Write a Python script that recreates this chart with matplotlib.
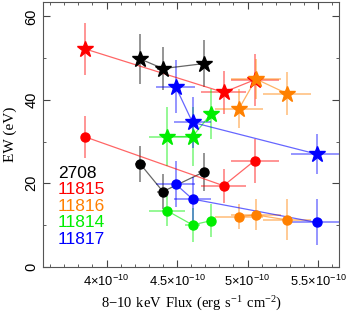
import numpy as np
import matplotlib
matplotlib.use("Agg")
import matplotlib.pyplot as plt
from matplotlib.ticker import MultipleLocator, FuncFormatter

plt.rcParams['font.family'] = ['Liberation Sans', 'DejaVu Sans']
plt.rcParams['mathtext.fontset'] = 'custom'
plt.rcParams['mathtext.rm'] = 'Liberation Serif'
plt.rcParams['mathtext.sf'] = 'Liberation Sans'

# flux in units of 1e-10 erg/s/cm2
SCALE = 1e-10
obs_ids = ['2708', '11815', '11816', '11814', '11817']
colors = ['black', '#ff0000', '#ff8000', '#00ee00', '#0000ff']

flux = {
    '2708':  [4.24, 4.40, 4.69],
    '11815': [3.85, 4.83, 5.05],
    '11816': [4.94, 5.06, 5.28],
    '11814': [4.43, 4.61, 4.74],
    '11817': [4.49, 4.61, 5.49],
}
flux_err = {
    '2708':  [0.04, 0.04, 0.04],
    '11815': [0.02, 0.16, 0.17],
    '11816': [0.17, 0.18, 0.17],
    '11814': [0.13, 0.05, 0.03],
    '11817': [0.14, 0.13, 0.18],
}
# stars
ew_star = {
    '2708':  [49.8, 47.5, 48.7],
    '11815': [52.2, 41.8, 44.8],
    '11816': [37.9, 45.0, 41.5],
    '11814': [31.2, 31.2, 36.6],
    '11817': [43.2, 34.6, 27.0],
}
ew_star_err = {
    '2708':  [6.1, 5.2, 5.7],
    '11815': [6.2, 5.2, 6.2],
    '11816': [4.6, 4.8, 5.2],
    '11814': [7.0, 7.0, 5.9],
    '11817': [6.4, 6.2, 4.8],
}
# circles
ew_circ = {
    '2708':  [24.6, 18.0, 22.7],
    '11815': [31.1, 19.4, 25.4],
    '11816': [12.0, 12.4, 11.2],
    '11814': [13.4, 10.0, 11.0],
    '11817': [19.8, 16.2, 10.6],
}
ew_circ_err = {
    '2708':  [4.4, 4.2, 4.6],
    '11815': [5.0, 4.1, 5.3],
    '11816': [3.1, 3.7, 4.9],
    '11814': [3.6, 4.0, 4.0],
    '11817': [5.6, 5.2, 5.5],
}

fig = plt.figure(figsize=(3.5, 3.17), dpi=100)
ax = fig.add_axes([0.123, 0.159, 0.846, 0.835])

for obs, c in zip(obs_ids, colors):
    x = np.array(flux[obs]) * SCALE
    xe = np.array(flux_err[obs]) * SCALE
    for ew, ee, mk, ms in [(ew_star, ew_star_err, '*', 12), (ew_circ, ew_circ_err, 'o', 6.5)]:
        y = np.array(ew[obs])
        ax.errorbar(x, y, xerr=xe, yerr=ee[obs], fmt='none', ecolor=c,
                    alpha=0.45, elinewidth=1.3, capsize=0, zorder=1)
        ax.plot(x, y, '-', color=c, alpha=0.6, lw=0.9, zorder=2)
        ax.plot(x, y, marker=mk, ls='none', color=c, ms=ms, mec=c, zorder=3)

ax.set_xlim(3.55e-10, 5.65e-10)
ax.set_ylim(0, 63.5)
ax.xaxis.set_major_locator(MultipleLocator(0.5e-10))
ax.xaxis.set_minor_locator(MultipleLocator(0.1e-10))
ax.yaxis.set_major_locator(MultipleLocator(20))
ax.yaxis.set_minor_locator(MultipleLocator(10))


def xfmt(v, pos):
    m = v / SCALE
    return '%g×10$^{\\mathsf{-10}}$' % round(m, 2)


ax.xaxis.set_major_formatter(FuncFormatter(xfmt))
ax.tick_params(which='both', direction='in', top=True, right=True,
               color='#444444')
ax.tick_params(axis='x', labelsize=9.3, pad=5)
ax.tick_params(axis='y', labelsize=10.5)
ax.tick_params(which='major', length=5)
ax.tick_params(which='minor', length=2.5)
for lab in ax.get_yticklabels():
    lab.set_rotation(90)
    lab.set_va('center')
for sp in ax.spines.values():
    sp.set_color('#555555')

ax.set_xlabel(r'$\mathrm{8{-}10\ keV\ Flux\ (erg\ s^{-1}\ cm^{-2})}$', fontsize=10.5, labelpad=4)
ax.set_ylabel('EW (eV)', family='Liberation Serif', fontsize=11, labelpad=5)

for i, (obs, c) in enumerate(zip(obs_ids, colors)):
    ax.text(0.05, 0.353 - i * 0.0623, obs, color=c, fontsize=12.5,
            transform=ax.transAxes, va='center', ha='left')

fig.savefig('out.png', dpi=100)
